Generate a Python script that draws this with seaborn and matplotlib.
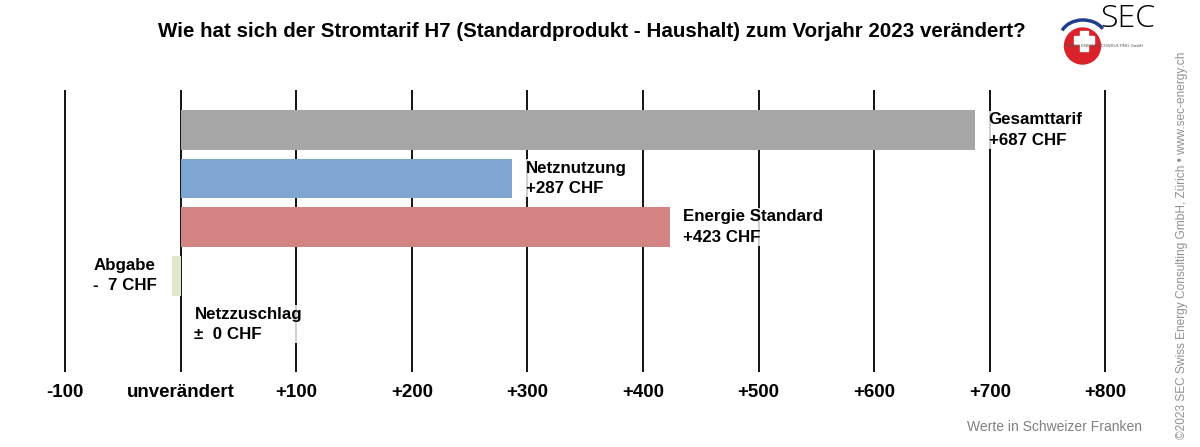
import pandas as pd
import seaborn as sns
import matplotlib.pyplot as plt
from matplotlib.patches import Circle, Rectangle, Arc

categories = ["Gesamttarif", "Netznutzung", "Energie Standard", "Abgabe", "Netzzuschlag"]
values = [687, 287, 423, -7, 0]
value_labels = ["+687 CHF", "+287 CHF", "+423 CHF", "-  7 CHF", "±  0 CHF"]
colors = ["#a6a6a6", "#7fa6d2", "#d48383", "#dfe8cb", "#dddddd"]
tick_values = [-100, 0, 100, 200, 300, 400, 500, 600, 700, 800]
tick_labels = ["-100", "unverändert", "+100", "+200", "+300", "+400", "+500", "+600", "+700", "+800"]

if __name__ == "__main__":
    df = pd.DataFrame({"Kategorie": categories, "Wert": values})

    sns.set_theme(style="white", rc={"text.color": "black", "xtick.color": "black"})
    plt.rcParams["font.family"] = ["Liberation Sans", "DejaVu Sans"]

    fig = plt.figure(figsize=(12, 4.47), dpi=100)
    ax = fig.add_axes([0.0493, 0.1678, 0.8767, 0.631])

    # grid lines behind the bars
    for t in tick_values:
        ax.axvline(t, color="black", lw=1.3, zorder=0)

    sns.barplot(df, x="Wert", y="Kategorie", hue="Kategorie", palette=colors,
                orient="h", width=0.82, saturation=1, legend=False, ax=ax,
                zorder=2, linewidth=0, edgecolor="none")

    ax.set_xlim(-105, 805)
    ax.set_ylim(4.98, -0.82)
    for s in ax.spines.values():
        s.set_visible(False)
    ax.set_yticks([])
    ax.set_ylabel("")
    ax.set_xlabel("")
    ax.set_xticks(tick_values)
    ax.set_xticklabels(tick_labels, fontsize=13.5, fontweight="bold", color="black")
    ax.tick_params(axis="x", length=0, pad=9)

    # value labels
    for i, (cat, v, lab) in enumerate(zip(categories, values, value_labels)):
        if v < 0:
            ax.annotate(f"{cat}\n{lab}", xy=(v, i), xytext=(-11, 0), textcoords="offset points",
                        ha="right", va="center", multialignment="left", color="black",
                        fontsize=12.2, fontweight="bold", linespacing=1.45, zorder=3)
        else:
            ax.annotate(f"{cat}\n{lab}", xy=(v, i), xytext=(10, 0), textcoords="offset points",
                        ha="left", va="center", fontsize=12.2, fontweight="bold", linespacing=1.45,
                        color="black", zorder=3,
                        bbox=dict(facecolor="white", edgecolor="none", alpha=0.8, pad=1))

    fig.text(0.493, 0.93, "Wie hat sich der Stromtarif H7 (Standardprodukt - Haushalt) zum Vorjahr 2023 verändert?",
             ha="center", va="center", fontsize=14.8, fontweight="bold", color="black")

    fig.text(0.952, 0.045, "Werte in Schweizer Franken", ha="right", va="center",
             fontsize=10, color="#808080")
    fig.text(0.985, 0.452, "©2023 SEC Swiss Energy Consulting GmbH, Zürich • www.sec-energy.ch",
             rotation=90, ha="center", va="center", fontsize=8.6, color="#909090")

    # logo, drawn in pixel coordinates of the figure corner
    lax = fig.add_axes([1030 / 1200, 1 - 100 / 447, 150 / 1200, 100 / 447])
    lax.set_xlim(1030, 1180)
    lax.set_ylim(100, 0)
    lax.axis("off")
    lax.add_patch(Arc((1083, 38), 46, 36, theta1=200, theta2=335, color="#1f3d8a", lw=2.5))
    lax.add_patch(Circle((1082.5, 46), 18, color="#d9222a"))
    lax.add_patch(Rectangle((1080, 31), 8, 20, color="white"))
    lax.add_patch(Rectangle((1074, 36), 20, 8, color="white"))
    lax.text(1100, 19, "SEC", fontsize=23, va="center", ha="left", color="black",
             family=["Open Sans", "DejaVu Sans"], fontweight="light")
    lax.text(1066, 46, "SWISS ENERGY CONSULTING GmbH", fontsize=3.2, color="#555555", va="center")

    plt.savefig("out.png", dpi=100)
